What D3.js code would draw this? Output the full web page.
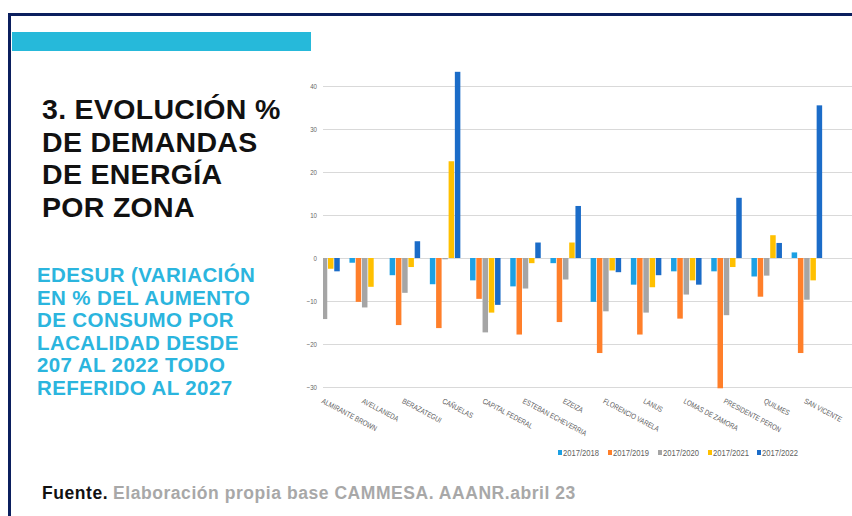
<!DOCTYPE html>
<html>
<head>
<meta charset="utf-8">
<script src="https://cdn.jsdelivr.net/npm/d3@7"></script>
<style>
  html, body { margin: 0; padding: 0; background: #ffffff; }
  svg { display: block; }
</style>
</head>
<body>
<svg id="chart" width="852" height="516"></svg>
<script>
// ---------- DATA ----------
const categories = ["ALMIRANTE BROWN","AVELLANEDA","BERAZATEGUI","CAÑUELAS","CAPITAL FEDERAL","ESTEBAN ECHEVERRIA","EZEIZA","FLORENCIO VARELA","LANUS","LOMAS DE ZAMORA","PRESIDENTE PERON","QUILMES","SAN VICENTE"];
const seriesNames = ["2017/2018","2017/2019","2017/2020","2017/2021","2017/2022"];
const s2018 = [-2.0, -1.1, -4.0, -6.1, -5.2, -6.6, -1.2, -10.2, -6.2, -3.1, -3.1, -4.3, 1.3];
const s2019 = [-12.0, -10.2, -15.6, -16.3, -9.5, -17.8, -14.9, -22.1, -17.8, -14.1, -30.3, -9.0, -22.1];
const s2020 = [-14.2, -11.5, -8.1, -0.3, -17.3, -7.1, -5.0, -12.4, -12.7, -8.5, -13.3, -4.1, -9.7];
const s2021 = [-2.5, -6.7, -2.1, 22.5, -12.7, -1.2, 3.6, -2.9, -6.8, -5.2, -2.1, 5.3, -5.2];
const s2022 = [-3.1, 0.0, 3.9, 43.3, -10.9, 3.6, 12.1, -3.3, -4.0, -6.2, 14.0, 3.5, 35.5];
const yTicks = [-30, -20, -10, 0, 10, 20, 30, 40];
const seriesColors = ["#1CA0E3", "#FF7F2A", "#A5A5A5", "#FFC000", "#1B6CC8"];

const titleLines = ["3. EVOLUCIÓN %", "DE DEMANDAS", "DE ENERGÍA", "POR ZONA"];
const subtitleLines = ["EDESUR (VARIACIÓN", "EN % DEL AUMENTO", "DE CONSUMO POR", "LACALIDAD DESDE", "207 AL 2022 TODO", "REFERIDO AL 2027"];
const sourceBold = "Fuente.";
const sourceText = "Elaboración propia base CAMMESA. AAANR.abril 23";

const seriesData = [s2018, s2019, s2020, s2021, s2022];
const table = categories.map((c, i) => ({ cat: c, values: seriesData.map((s, k) => ({ key: seriesNames[k], k, v: s[i] })) }));

// ---------- LAYOUT ----------
const svg = d3.select("#chart");
const plotLeft = 323, plotRight = 852, plotTop = 60, plotBottom = 400;
const step = 40.2, bandStart = 304.4;
const small = "'Liberation Sans', Arial, sans-serif";
const bold = "'Liberation Sans', Arial, sans-serif";
const squeeze = 0.82;

// frame
svg.append("rect").attr("x", 8).attr("y", 13).attr("width", 852 - 8).attr("height", 3).attr("fill", "#0B1F5E");
svg.append("rect").attr("x", 8).attr("y", 13).attr("width", 3).attr("height", 516 - 13).attr("fill", "#0B1F5E");
// cyan band
svg.append("rect").attr("x", 12).attr("y", 32).attr("width", 299).attr("height", 19).attr("fill", "#26B9DA");

// title
const title = svg.append("g").attr("font-family", bold).attr("font-weight", "bold").attr("fill", "#111111");
title.selectAll("text").data(titleLines).join("text")
  .attr("x", 42).attr("y", (d, i) => 119 + i * 32.7)
  .attr("font-size", 28.5).attr("letter-spacing", 0.3).text(d => d);

const sub = svg.append("g").attr("font-family", bold).attr("font-weight", "bold").attr("fill", "#2BB5DE");
sub.selectAll("text").data(subtitleLines).join("text")
  .attr("x", 37).attr("y", (d, i) => 282 + i * 22.5)
  .attr("font-size", 20.5).attr("letter-spacing", 0.4).text(d => d);

// footer
const foot = svg.append("text").attr("x", 42).attr("y", 499).attr("font-family", bold).attr("font-weight", "bold").attr("font-size", 17.5).attr("letter-spacing", 0.55);
foot.append("tspan").attr("fill", "#111111").text(sourceBold);
foot.append("tspan").attr("fill", "#A8A8A8").attr("dx", 5).text(sourceText);

// ---------- SCALES ----------
const x0 = d3.scaleBand().domain(categories).range([bandStart, bandStart + step * categories.length]).padding(0);
const groupW = 30.5;
const x1 = d3.scaleBand().domain(seriesNames).range([(step - groupW) / 2, (step + groupW) / 2]).paddingInner(0.12).paddingOuter(0);
const y = d3.scaleLinear().domain([-30, 40]).range([387, 86]);
const color = d3.scaleOrdinal().domain(seriesNames).range(seriesColors);

// clip
svg.append("defs").append("clipPath").attr("id", "plotclip")
  .append("rect").attr("x", plotLeft).attr("y", plotTop).attr("width", plotRight - plotLeft).attr("height", plotBottom - plotTop);

// gridlines via axis
const yAxis = d3.axisLeft(y).tickValues(yTicks).tickSize(-(plotRight - plotLeft)).tickFormat(d3.format("d"));
const ga = svg.append("g").attr("transform", `translate(${plotLeft},0)`).call(yAxis);
ga.select(".domain").remove();
ga.selectAll(".tick line").attr("stroke", "#D9D9D9").attr("stroke-width", 1);
ga.selectAll(".tick text").attr("x", -6 / squeeze).attr("transform", `scale(${squeeze},1)`)
  .attr("font-family", small).attr("font-size", 7.5).attr("fill", "#666666");

// bars
const bars = svg.append("g").attr("clip-path", "url(#plotclip)");
const groups = bars.selectAll("g").data(table).join("g").attr("transform", d => `translate(${x0(d.cat)},0)`);
groups.selectAll("rect").data(d => d.values).join("rect")
  .attr("x", d => x1(d.key))
  .attr("width", x1.bandwidth())
  .attr("y", d => y(Math.max(0, d.v)))
  .attr("height", d => Math.abs(y(d.v) - y(0)))
  .attr("fill", d => color(d.key));

// category labels (rotated)
const xAxis = d3.axisBottom(x0).tickSize(0).tickPadding(0);
const gx = svg.append("g").attr("transform", "translate(0,398)").call(xAxis);
gx.select(".domain").remove();
gx.selectAll(".tick text")
  .attr("text-anchor", "start")
  .attr("x", -1).attr("y", 0).attr("dy", "0.75em")
  .attr("transform", `rotate(28) scale(${squeeze},1)`)
  .attr("font-family", small).attr("font-size", 7.6).attr("fill", "#606060");

// legend
const legendX = [563, 613, 663, 713, 762];
const lg = svg.append("g").selectAll("g").data(seriesNames).join("g")
  .attr("transform", (d, i) => `translate(${legendX[i]},453)`);
lg.append("rect").attr("x", -5).attr("y", -3).attr("width", 4).attr("height", 5).attr("fill", d => color(d));
lg.append("text").attr("x", 0).attr("y", 0).attr("dy", "0.33em").attr("transform", `scale(${squeeze},1)`)
  .attr("font-family", small).attr("font-size", 9.3).attr("fill", "#606060").text(d => d);
</script>
</body>
</html>
